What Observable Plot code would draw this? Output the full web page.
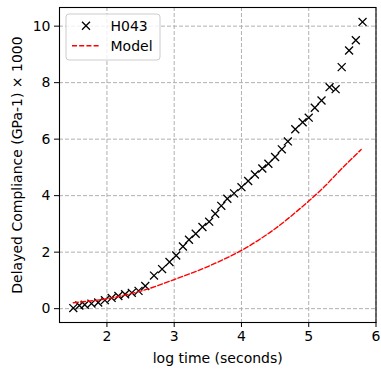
<!DOCTYPE html>
<html>
<head>
<meta charset="utf-8">
<script src="https://cdn.jsdelivr.net/npm/d3@7"></script>
<script src="https://cdn.jsdelivr.net/npm/@observablehq/plot@0.6"></script>
<style>
  html, body { margin: 0; padding: 0; background: #fff; }
  svg { display: block; }
</style>
</head>
<body>
<div id="chart"></div>
<script>
// Measured data (H043): log time (s) vs delayed compliance (GPa-1) x 1000
const logTime = [1.50, 1.59, 1.67, 1.77, 1.87, 1.97, 2.07, 2.17, 2.27, 2.37, 2.47, 2.57,
  2.70, 2.82, 2.93, 3.03, 3.13, 3.22, 3.32, 3.42, 3.52, 3.61, 3.70, 3.79, 3.89, 4.00,
  4.10, 4.20, 4.31, 4.40, 4.50, 4.60, 4.69, 4.80, 4.91, 5.00, 5.09, 5.19, 5.31, 5.40,
  5.49, 5.60, 5.70, 5.80];
const compliance = [0.02, 0.11, 0.14, 0.18, 0.22, 0.30, 0.38, 0.45, 0.51, 0.56, 0.63, 0.80,
  1.17, 1.40, 1.65, 1.88, 2.20, 2.44, 2.65, 2.89, 3.08, 3.36, 3.64, 3.89, 4.08, 4.30,
  4.52, 4.75, 4.96, 5.13, 5.37, 5.64, 5.92, 6.35, 6.60, 6.76, 7.11, 7.37, 7.84, 7.77,
  8.55, 9.14, 9.50, 10.15];

// Model curve
const modelTime = [1.50, 1.75, 2.00, 2.25, 2.50, 2.75, 3.00, 3.25, 3.50, 3.75, 4.00,
  4.25, 4.50, 4.75, 5.00, 5.25, 5.50, 5.78];
const modelValue = [0.21, 0.27, 0.35, 0.47, 0.62, 0.81, 1.03, 1.25, 1.49, 1.76, 2.06,
  2.42, 2.83, 3.30, 3.81, 4.36, 4.98, 5.63];

const xTicks = [2, 3, 4, 5, 6];
const yTicks = [0, 2, 4, 6, 8, 10];
const seriesNames = ["H043", "Model"];
const xLabel = "log time (seconds)";
const yLabel = "Delayed Compliance (GPa-1) × 1000";

const points = logTime.map((t, i) => ({t, c: compliance[i]}));
const model = modelTime.map((t, i) => ({t, c: modelValue[i]}));

const chart = Plot.plot({
  width: 381,
  height: 374,
  marginLeft: 59,
  marginRight: 5.5,
  marginTop: 7,
  marginBottom: 52,
  style: {fontFamily: "DejaVu Sans", fontSize: "14px", background: "#fff", color: "#000"},
  x: {domain: [1.295, 6.0]},
  y: {domain: [-0.49, 10.66]},
  marks: [
    Plot.gridX(xTicks, {stroke: "#b0b0b0", strokeOpacity: 1, strokeWidth: 1, strokeDasharray: "4,2"}),
    Plot.gridY(yTicks, {stroke: "#b0b0b0", strokeOpacity: 1, strokeWidth: 1, strokeDasharray: "4,2"}),
    Plot.axisX(xTicks, {tickSize: 5, tickPadding: 4, label: null, fontSize: 14}),
    Plot.axisY(yTicks, {tickSize: 5, tickPadding: 4, label: null, fontSize: 14}),
    Plot.dot(points, {x: "t", y: "c", symbol: "times", r: 3.7, stroke: "black", strokeWidth: 1.3}),
    Plot.line(model, {x: "t", y: "c", stroke: "red", strokeWidth: 1.4, strokeDasharray: "5,2.2", curve: "natural"}),
    Plot.frame({stroke: "black", strokeWidth: 1.1}),
    Plot.text([xLabel], {frameAnchor: "bottom", dy: 36, textAnchor: "middle", lineAnchor: "middle", fontSize: 14, text: d => d}),
    Plot.text([yLabel], {frameAnchor: "left", dx: -42, rotate: -90, textAnchor: "middle", lineAnchor: "middle", fontSize: 14, text: d => d})
  ]
});

document.getElementById("chart").appendChild(chart);

// Legend (matplotlib-style box in upper left)
const svg = d3.select(chart);
const lg = svg.append("g").attr("class", "legend").attr("text-anchor", "start");
lg.append("rect")
  .attr("x", 66).attr("y", 14).attr("width", 94).attr("height", 46)
  .attr("rx", 3).attr("fill", "white").attr("fill-opacity", 0.8)
  .attr("stroke", "#cccccc").attr("stroke-width", 1);
lg.append("path")
  .attr("d", d3.symbol(d3.symbolTimes, 3.7 * 3.7 * Math.PI)())
  .attr("transform", "translate(86,25.7)")
  .attr("fill", "none").attr("stroke", "black").attr("stroke-width", 1.3);
lg.append("line")
  .attr("x1", 72).attr("x2", 100).attr("y1", 45.7).attr("y2", 45.7)
  .attr("stroke", "red").attr("stroke-width", 1.4).attr("stroke-dasharray", "5,2.2");
lg.selectAll("text.lbl").data(seriesNames).join("text")
  .attr("class", "lbl")
  .attr("x", 110.5)
  .attr("y", (d, i) => 25.7 + i * 20)
  .attr("dy", "0.35em")
  .attr("text-anchor", "start")
  .attr("font-family", "DejaVu Sans").attr("font-size", 14)
  .attr("fill", "black")
  .text(d => d);
</script>
</body>
</html>
